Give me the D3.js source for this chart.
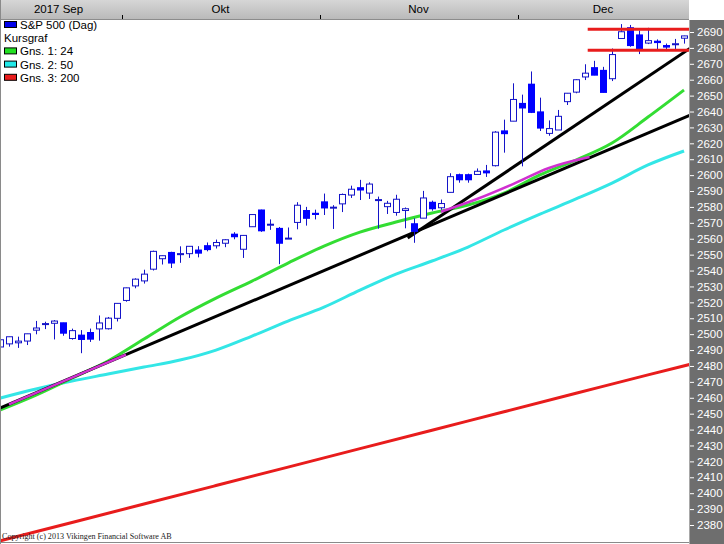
<!DOCTYPE html>
<html><head><meta charset="utf-8">
<script src="https://cdn.jsdelivr.net/npm/d3@7"></script>
<style>html,body{margin:0;padding:0;background:#fff;overflow:hidden}svg{display:block}</style>
</head><body>
<svg id="c" width="724" height="544"></svg>
<script>
// ---- data (S&P 500 daily) ----
const dates = [
 "2017-09-12","2017-09-13","2017-09-14","2017-09-15","2017-09-18","2017-09-19","2017-09-20","2017-09-21","2017-09-22","2017-09-25","2017-09-26","2017-09-27","2017-09-28","2017-09-29",
 "2017-10-02","2017-10-03","2017-10-04","2017-10-05","2017-10-06","2017-10-09","2017-10-10","2017-10-11","2017-10-12","2017-10-13","2017-10-16","2017-10-17","2017-10-18","2017-10-19","2017-10-20","2017-10-23","2017-10-24","2017-10-25","2017-10-26","2017-10-27","2017-10-30","2017-10-31",
 "2017-11-01","2017-11-02","2017-11-03","2017-11-06","2017-11-07","2017-11-08","2017-11-09","2017-11-10","2017-11-13","2017-11-14","2017-11-15","2017-11-16","2017-11-17","2017-11-20","2017-11-21","2017-11-22","2017-11-23","2017-11-24","2017-11-27","2017-11-28","2017-11-29","2017-11-30",
 "2017-12-01","2017-12-04","2017-12-05","2017-12-06","2017-12-07","2017-12-08","2017-12-11","2017-12-12","2017-12-13","2017-12-14","2017-12-15","2017-12-18","2017-12-19","2017-12-20","2017-12-21","2017-12-22","2017-12-26","2017-12-27","2017-12-28"];
const opens = [2491.94,2493.89,2494.56,2495.67,2502.51,2506.29,2506.84,2507.16,2497.26,2499.39,2501.04,2503.30,2503.41,2509.96,
 2521.20,2530.34,2533.48,2540.86,2547.44,2551.39,2549.99,2550.62,2552.88,2555.66,2555.57,2557.17,2562.87,2553.39,2567.56,2578.08,2568.66,2566.52,2560.08,2570.26,2577.75,2575.99,
 2583.21,2579.46,2581.93,2587.47,2592.11,2588.71,2584.00,2580.18,2576.53,2577.75,2569.45,2572.95,2582.94,2579.49,2589.17,2600.31,2600.31,2600.42,2602.66,2605.94,2627.82,2633.93,
 2645.10,2657.19,2639.78,2626.24,2628.38,2646.21,2652.19,2661.73,2667.59,2665.87,2660.63,2685.92,2692.71,2688.18,2683.02,2684.22,2681.50,2682.10,2686.10];
const highs = [2496.77,2498.37,2498.43,2500.23,2508.32,2507.84,2508.85,2507.16,2503.47,2502.54,2503.51,2511.75,2510.81,2519.44,
 2529.23,2535.13,2540.53,2552.51,2549.41,2551.82,2555.23,2555.24,2555.33,2557.65,2559.47,2559.71,2564.11,2562.36,2575.44,2578.29,2572.18,2567.40,2567.07,2582.98,2580.03,2578.29,
 2588.40,2581.11,2588.42,2593.38,2597.02,2595.47,2586.50,2583.81,2587.66,2579.66,2572.84,2590.09,2583.96,2584.64,2601.19,2600.94,2600.94,2604.21,2606.41,2627.69,2634.89,2657.74,
 2650.62,2665.19,2648.72,2634.41,2640.99,2651.65,2660.33,2669.72,2671.88,2668.09,2679.63,2694.97,2694.44,2691.01,2692.64,2685.35,2682.74,2685.64,2687.66];
const lows = [2490.37,2492.14,2491.35,2493.16,2499.92,2503.19,2496.67,2499.00,2496.54,2488.03,2495.12,2495.91,2502.93,2507.99,
 2520.40,2528.85,2531.80,2540.02,2543.79,2541.60,2544.86,2547.95,2548.31,2552.09,2553.86,2554.69,2559.67,2547.92,2567.56,2564.33,2565.58,2544.00,2559.80,2565.94,2568.25,2572.15,
 2574.92,2566.17,2576.77,2585.66,2584.35,2585.02,2566.33,2575.57,2574.48,2566.56,2557.45,2572.95,2577.62,2578.24,2589.17,2595.23,2595.23,2600.42,2598.87,2605.44,2614.13,2633.93,
 2605.52,2639.03,2627.73,2624.75,2628.38,2644.10,2651.47,2659.78,2662.85,2652.01,2659.14,2685.92,2680.74,2676.11,2682.40,2678.13,2677.96,2678.91,2682.69];
const closes = [2496.48,2498.37,2495.62,2500.23,2503.87,2506.65,2508.24,2500.60,2502.22,2496.66,2496.84,2507.04,2510.06,2519.36,
 2529.12,2534.58,2537.74,2552.07,2549.33,2544.73,2550.64,2555.24,2550.93,2553.17,2557.64,2559.36,2561.26,2562.10,2575.21,2564.98,2569.13,2557.15,2560.40,2581.07,2572.83,2575.26,
 2579.36,2579.85,2587.84,2591.13,2590.64,2594.38,2584.62,2582.30,2584.84,2578.87,2564.62,2585.64,2578.85,2582.14,2599.03,2597.08,2597.08,2602.42,2601.42,2627.04,2626.07,2647.58,
 2642.22,2639.44,2629.57,2629.27,2636.98,2651.50,2659.99,2664.11,2662.85,2652.01,2675.81,2690.16,2681.47,2679.25,2684.57,2683.34,2680.50,2682.62,2687.54];

const monthNames = ["2017 Sep","Okt","Nov","Dec"];
const yTickValues = [2690,2680,2670,2660,2650,2640,2630,2620,2610,2600,2590,2580,2570,2560,2550,2540,2530,2520,2510,2500,2490,2480,2470,2460,2450,2440,2430,2420,2410,2400,2390,2380];

// moving averages (value at bar index)
const maIdx = [0,4,8,12,16,20,24,28,32,36,40,44,48,52,56,60,64,68,72,76];
const ma24  = [2452.3,2461.7,2472.4,2483.1,2496.9,2510.8,2522.7,2533.4,2544.7,2555.4,2564.2,2570.5,2576.2,2581.2,2588.7,2600.1,2609.5,2620.2,2636.5,2653.5];
const ma50  = [2459.8,2465.5,2470.5,2474.9,2479.3,2483.7,2490.0,2498.8,2508.2,2517.0,2527.7,2537.8,2546.0,2554.8,2565.5,2575.5,2585.0,2595.0,2606.4,2615.2];
const ma200Idx = [0,8,16,24,32,40,48,56,64,72,77];
const ma200 = [2370.0,2381.6,2393.2,2404.8,2416.4,2428.0,2439.6,2451.2,2462.8,2474.4,2481.5];

// drawn trend lines / markers  [barIndex, value]
const trend1 = [[0,2453.5],[77,2638.5]];
const trend2 = [[45.3,2560.4],[77,2681.0]];
const magentaA = [[1,2455.9],[14,2487.1]];
const magentaB = [[49,2577.0],[53,2585.0],[57,2594.4],[61,2604.5],[65.5,2611.4]];
const levelLines = [2691.7, 2678.5];
const levelStart = 65.3;

const legendItems = [
  {label:"S&P 500 (Dag)", color:"#0000e8"},
  {label:"Kursgraf", color:null},
  {label:"Gns. 1: 24", color:"#22e022"},
  {label:"Gns. 2: 50", color:"#22e8e8"},
  {label:"Gns. 3: 200", color:"#e81c1c"}
];

// ---- drawing ----
const svg = d3.select("#c");
const plotL = 1, plotR = 689, plotT = 20, plotB = 542;
const n = dates.length;
const x = d3.scaleLinear().domain([0, n-1]).range([0, 684]);
const y = d3.scaleLinear().domain([2380, 2690]).range([525, 32]);

const defs = svg.append("defs");
defs.append("clipPath").attr("id","pc").append("rect")
  .attr("x",plotL).attr("y",plotT).attr("width",plotR-plotL).attr("height",plotB-plotT);
const grad = defs.append("linearGradient").attr("id","hg").attr("x1",0).attr("x2",0).attr("y1",0).attr("y2",1);
grad.append("stop").attr("offset","0%").attr("stop-color","#d6d6d6");
grad.append("stop").attr("offset","100%").attr("stop-color","#bababa");

svg.append("rect").attr("width",724).attr("height",544).attr("fill","#fff");

const g = svg.append("g").attr("clip-path","url(#pc)");
const lineGen = d3.line().x(d=>x(d[0])).y(d=>y(d[1]));
const smooth = d3.line().x(d=>x(d[0])).y(d=>y(d[1])).curve(d3.curveMonotoneX);

g.append("path").datum(ma200Idx.map((k,i)=>[k,ma200[i]])).attr("d",smooth)
  .attr("fill","none").attr("stroke","#e81c1c").attr("stroke-width",3);
g.append("path").datum(maIdx.map((k,i)=>[k,ma50[i]])).attr("d",smooth)
  .attr("fill","none").attr("stroke","#33e6e6").attr("stroke-width",3);
g.append("path").datum(maIdx.map((k,i)=>[k,ma24[i]])).attr("d",smooth)
  .attr("fill","none").attr("stroke","#33dd33").attr("stroke-width",3);
[trend1, trend2].forEach(t=>{
  g.append("path").datum(t).attr("d",lineGen).attr("fill","none")
   .attr("stroke","#000").attr("stroke-width",3);
});
g.append("path").datum(magentaA).attr("d",lineGen).attr("fill","none")
  .attr("stroke","#d030d0").attr("stroke-width",2.5);
g.append("path").datum(magentaB).attr("d",smooth).attr("fill","none")
  .attr("stroke","#d030d0").attr("stroke-width",2.5);

// candles
const cw = 3;
const candles = g.append("g");
d3.range(n).forEach(i=>{
  const cx = Math.round(x(i)) + 0.5;
  const o = opens[i], c = closes[i];
  const up = c >= o;
  candles.append("line").attr("x1",cx).attr("x2",cx)
    .attr("y1",y(highs[i])).attr("y2",y(lows[i]))
    .attr("stroke","#1414c8").attr("stroke-width",1);
  const top = y(Math.max(o,c)), bot = y(Math.min(o,c));
  const h = Math.max(1, bot-top);
  if (up) {
    candles.append("rect").attr("x",cx-cw).attr("y",top).attr("width",cw*2).attr("height",h)
      .attr("fill","#fff").attr("stroke","#1414c8").attr("stroke-width",1);
  } else {
    candles.append("rect").attr("x",cx-cw-0.5).attr("y",top-0.5).attr("width",cw*2+1).attr("height",h+1)
      .attr("fill","#0000ff");
  }
});

// level lines
levelLines.forEach(v=>{
  g.append("line").attr("x1",x(levelStart)).attr("x2",plotR)
   .attr("y1",y(v)).attr("y2",y(v)).attr("stroke","#e81c1c").attr("stroke-width",3);
});

// header bar
svg.append("rect").attr("x",0).attr("y",0).attr("width",689).attr("height",19).attr("fill","url(#hg)");
svg.append("line").attr("x1",0).attr("x2",689).attr("y1",19.5).attr("y2",19.5).attr("stroke","#8c8c8c");
const monthOf = dates.map(d=>d.slice(0,7));
const months = Array.from(new Set(monthOf));
months.forEach((m,k)=>{
  const idxs = d3.range(n).filter(i=>monthOf[i]===m);
  const cx = d3.mean(idxs, i=>x(i));
  svg.append("text").attr("x",cx).attr("y",13).attr("text-anchor","middle")
    .attr("font-family","Liberation Sans, Arial, sans-serif").attr("font-size",11.5)
    .attr("fill","#000").text(monthNames[k]);
  if (k>0) {
    const bx = Math.round((x(idxs[0]) + x(idxs[0]-1))/2) + 0.5;
    svg.append("line").attr("x1",bx).attr("x2",bx).attr("y1",15).attr("y2",19)
      .attr("stroke","#000");
  }
});

// right axis panel
svg.append("rect").attr("x",689).attr("y",20).attr("width",35).attr("height",524).attr("fill","#6e6e6e");
svg.append("line").attr("x1",689.5).attr("x2",689.5).attr("y1",20).attr("y2",544).attr("stroke","#a8a8a8");
const axis = d3.axisRight(y).tickValues(yTickValues).tickSize(4).tickPadding(3).tickFormat(d3.format("d"));
const ag = svg.append("g").attr("transform","translate(690,0)").call(axis);
ag.select(".domain").remove();
ag.selectAll(".tick line").attr("stroke","#fff");
ag.selectAll(".tick text").attr("fill","#fff")
  .attr("font-family","Liberation Sans, Arial, sans-serif").attr("font-size",11.5);

// borders
svg.append("line").attr("x1",0.5).attr("x2",0.5).attr("y1",0).attr("y2",544).attr("stroke","#8a8a8a");
svg.append("line").attr("x1",0).attr("x2",689).attr("y1",542.5).attr("y2",542.5).attr("stroke","#8a8a8a");

// legend
const lg = svg.append("g");
legendItems.forEach((it,i)=>{
  const cy = 25 + i*13.2;
  if (it.color) {
    lg.append("rect").attr("x",4.5).attr("y",cy-3.5).attr("width",12).attr("height",6)
      .attr("fill",it.color).attr("stroke","#000").attr("stroke-width",1);
  }
  lg.append("text").attr("x", it.color ? 20 : 4).attr("y",cy+4)
    .attr("font-family","Liberation Sans, Arial, sans-serif").attr("font-size",11.5)
    .attr("fill","#000").text(it.label);
});

// copyright
svg.append("text").attr("x",2).attr("y",539)
  .attr("font-family","Liberation Serif, Times New Roman, serif").attr("font-size",8.1)
  .attr("fill","#222").text("Copyright (c) 2013 Vikingen Financial Software AB");
</script>
</body></html>
